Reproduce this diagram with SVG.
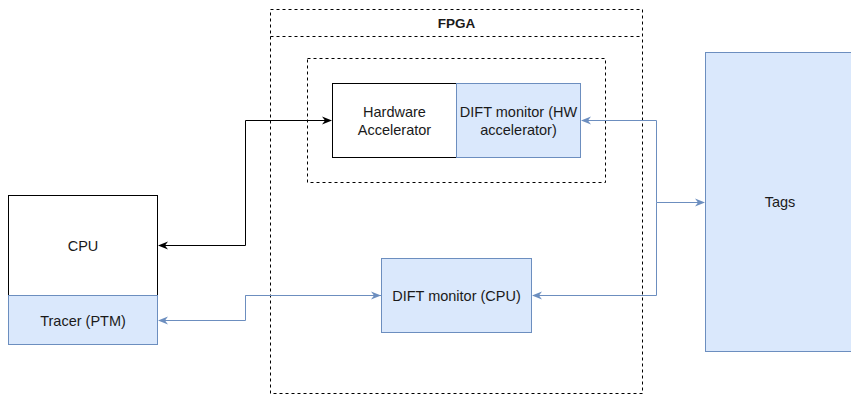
<svg xmlns="http://www.w3.org/2000/svg" width="851" height="396" viewBox="0 0 851 396">
  <defs>
    <style>
      text { font-family: "Liberation Sans", Arial, sans-serif; font-size: 14.5px; fill: #1a1a1a; text-anchor: middle; dominant-baseline: central; }
      .title { font-size: 13.5px; font-weight: bold; }
      .plain { fill: #ffffff; stroke: #000000; stroke-width: 1; }
      .blue { fill: #dae8fc; stroke: #6c8ebf; stroke-width: 1; }
      .dashed { fill: none; stroke: #000000; stroke-width: 1; stroke-dasharray: 3 3; }
      .link-black { fill: none; stroke: #000000; stroke-width: 1; }
      .link-blue { fill: none; stroke: #6c8ebf; stroke-width: 1; }
    </style>
    <marker id="arrow-black" viewBox="0 0 10 10" refX="9" refY="5" markerWidth="10" markerHeight="10" markerUnits="userSpaceOnUse" orient="auto">
      <path d="M0,1 L10,5 L0,9 L3,5 Z" fill="#000000"/>
    </marker>
    <marker id="arrow-blue" viewBox="0 0 10 10" refX="9" refY="5" markerWidth="10" markerHeight="10" markerUnits="userSpaceOnUse" orient="auto">
      <path d="M0,1 L10,5 L0,9 L3,5 Z" fill="#6c8ebf"/>
    </marker>
  </defs>

  <rect width="851" height="396" fill="#ffffff"/>

  <!-- FPGA container -->
  <g id="fpga">
    <rect class="dashed" x="270.5" y="9.5" width="372" height="384"/>
    <line class="dashed" x1="270.5" y1="36.5" x2="642.5" y2="36.5"/>
    <text class="title" x="456.5" y="23">FPGA</text>
  </g>

  <!-- accelerator enclosure -->
  <g id="accel-group">
    <rect class="dashed" x="307.5" y="58.5" width="298" height="124"/>
  </g>

  <g id="hw-accelerator">
    <rect class="plain" x="332.5" y="83.5" width="124" height="74"/>
    <text x="394.5" y="111.5">Hardware</text>
    <text x="394.5" y="129.5">Accelerator</text>
  </g>

  <g id="dift-hw">
    <rect class="blue" x="456.5" y="83.5" width="124" height="74"/>
    <text x="518.5" y="111.5">DIFT monitor (HW</text>
    <text x="518.5" y="129.5">accelerator)</text>
  </g>

  <g id="cpu">
    <rect class="plain" x="8.5" y="195.5" width="149" height="100"/>
    <text x="83" y="245.5">CPU</text>
  </g>

  <g id="tracer">
    <rect class="blue" x="8.5" y="295.5" width="149" height="49"/>
    <text x="83" y="320.5">Tracer (PTM)</text>
  </g>

  <g id="dift-cpu">
    <rect class="blue" x="381.5" y="258.5" width="150" height="74"/>
    <text x="456.5" y="295.5">DIFT monitor (CPU)</text>
  </g>

  <g id="tags">
    <rect class="blue" x="705.5" y="52.5" width="150" height="299"/>
    <text x="780" y="202">Tags</text>
  </g>

  <!-- connectors -->
  <g id="connectors">
    <path class="link-black" d="M245.5,120.5 L245.5,245.5 L159,245.5" marker-end="url(#arrow-black)"/>
    <path class="link-black" d="M245.5,120.5 L331,120.5" marker-end="url(#arrow-black)"/>
    <path class="link-blue" d="M381,295.5 L245.5,295.5 L245.5,320.5 L159,320.5" marker-end="url(#arrow-blue)"/>
    <path class="link-blue" d="M245.5,295.5 L380,295.5" marker-end="url(#arrow-blue)"/>
    <path class="link-blue" d="M656.5,202.5 L656.5,120.5 L582,120.5" marker-end="url(#arrow-blue)"/>
    <path class="link-blue" d="M656.5,202.5 L656.5,295.5 L533,295.5" marker-end="url(#arrow-blue)"/>
    <path class="link-blue" d="M656.5,202.5 L704,202.5" marker-end="url(#arrow-blue)"/>
  </g>
</svg>
